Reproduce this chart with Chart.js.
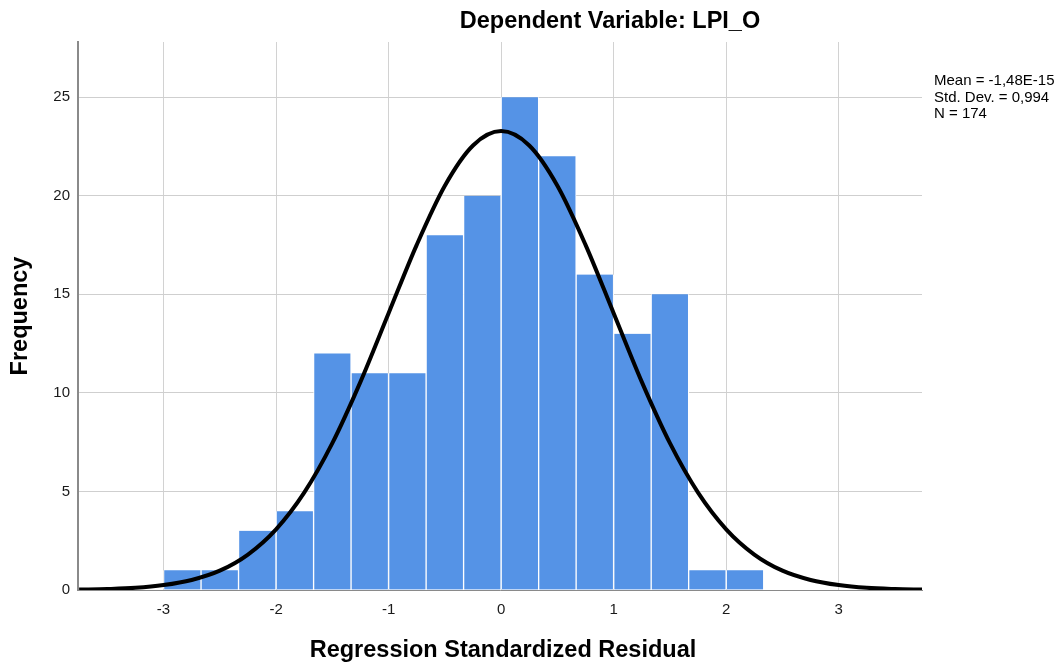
<!DOCTYPE html>
<html>
<head>
<meta charset="utf-8">
<script src="https://cdn.jsdelivr.net/npm/chart.js@4.4.1/dist/chart.umd.min.js"></script>
<style>
  html, body { margin: 0; padding: 0; background: #fff; }
  #wrap { width: 1062px; height: 663px; }
</style>
</head>
<body>
<div id="wrap"><canvas id="grafico"></canvas></div>
<script>
// histogram bins (centers of the 1/3-wide bins) and counts
var binCenters = [-2.833, -2.5, -2.167, -1.833, -1.5, -1.167, -0.833, -0.5, -0.167, 0.167, 0.5, 0.833, 1.167, 1.5, 1.833, 2.167];
var counts = [1, 1, 3, 4, 12, 11, 11, 18, 20, 25, 22, 16, 13, 15, 1, 1];

// normal curve
var curveX = [-3.75, -3.5, -3.25, -3, -2.75, -2.5, -2.25, -2, -1.75, -1.5, -1.25, -1, -0.75, -0.5, -0.25, 0,
              0.25, 0.5, 0.75, 1, 1.25, 1.5, 1.75, 2, 2.25, 2.5, 2.75, 3, 3.25, 3.5, 3.75];
var curveY = [0.02, 0.05, 0.11, 0.25, 0.51, 0.98, 1.8, 3.08, 4.94, 7.45, 10.56, 14.04, 17.51, 20.51, 22.55, 23.28,
              22.55, 20.51, 17.51, 14.04, 10.56, 7.45, 4.94, 3.08, 1.8, 0.98, 0.51, 0.25, 0.11, 0.05, 0.02];

var xTicks = [-3, -2, -1, 0, 1, 2, 3];
var yTicks = [0, 5, 10, 15, 20, 25];
var statsLines = ['Mean = -1,48E-15', 'Std. Dev. = 0,994', 'N = 174'];

var FONT = '"Liberation Sans", Arial, sans-serif';

var barData = binCenters.map(function (x, i) { return { x: x, y: counts[i] }; });
var lineData = curveX.map(function (x, i) { return { x: x, y: curveY[i] }; });

var textos = {
    id: 'textos',
    afterDraw: function (chart) {
        var c = chart.ctx;
        c.save();
        c.fillStyle = '#000';
        c.font = 'bold 23.5px ' + FONT;
        c.textAlign = 'center';
        c.textBaseline = 'middle';
        c.fillText('Dependent Variable: LPI_O', 610, 22);
        c.fillText('Regression Standardized Residual', 503, 651);
        c.translate(21, 316);
        c.rotate(-Math.PI / 2);
        c.fillText('Frequency', 0, 0);
        c.restore();

        c.save();
        c.fillStyle = '#000';
        c.font = '15px ' + FONT;
        c.textAlign = 'left';
        c.textBaseline = 'middle';
        statsLines.forEach(function (t, i) {
            c.fillText(t, 934, 81 + i * 16.5);
        });
        c.restore();
    }
};

var ctx = document.getElementById('grafico');
var myChart = new Chart(ctx, {
    data: {
        datasets: [{
            type: 'line',
            data: lineData,
            borderColor: '#000',
            borderWidth: 4,
            pointRadius: 0,
            cubicInterpolationMode: 'monotone',
            fill: false,
            order: 0
        }, {
            type: 'bar',
            data: barData,
            backgroundColor: '#5593e6',
            borderColor: '#ffffff',
            borderWidth: { left: 1, right: 1, top: 0, bottom: 0 },
            borderSkipped: false,
            barPercentage: 1,
            categoryPercentage: 1,
            order: 1
        }]
    },
    options: {
        responsive: true,
        maintainAspectRatio: false,
        animation: false,
        layout: { padding: { left: 0, top: 42, right: 140, bottom: 0 } },
        plugins: {
            legend: { display: false },
            tooltip: { enabled: false }
        },
        scales: {
            x: {
                type: 'linear',
                min: -3.76,
                max: 3.74,
                offset: false,
                afterBuildTicks: function (s) { s.ticks = xTicks.map(function (v) { return { value: v }; }); },
                afterFit: function (s) { s.height = 73; },
                ticks: { color: '#1a1a1a', font: { family: FONT, size: 15 }, padding: 11 },
                grid: { color: '#d2d2d2', lineWidth: 1, drawTicks: false, offset: false },
                border: { color: '#8a8a8a', width: 1 }
            },
            y: {
                min: 0,
                max: 27.8,
                afterBuildTicks: function (s) { s.ticks = yTicks.map(function (v) { return { value: v }; }); },
                afterFit: function (s) { s.width = 78; },
                ticks: { color: '#1a1a1a', font: { family: FONT, size: 15 }, padding: 8 },
                grid: { color: '#cfcfcf', lineWidth: 1, drawTicks: false },
                border: { color: '#8a8a8a', width: 2 }
            }
        }
    },
    plugins: [textos]
});
</script>
</body>
</html>
